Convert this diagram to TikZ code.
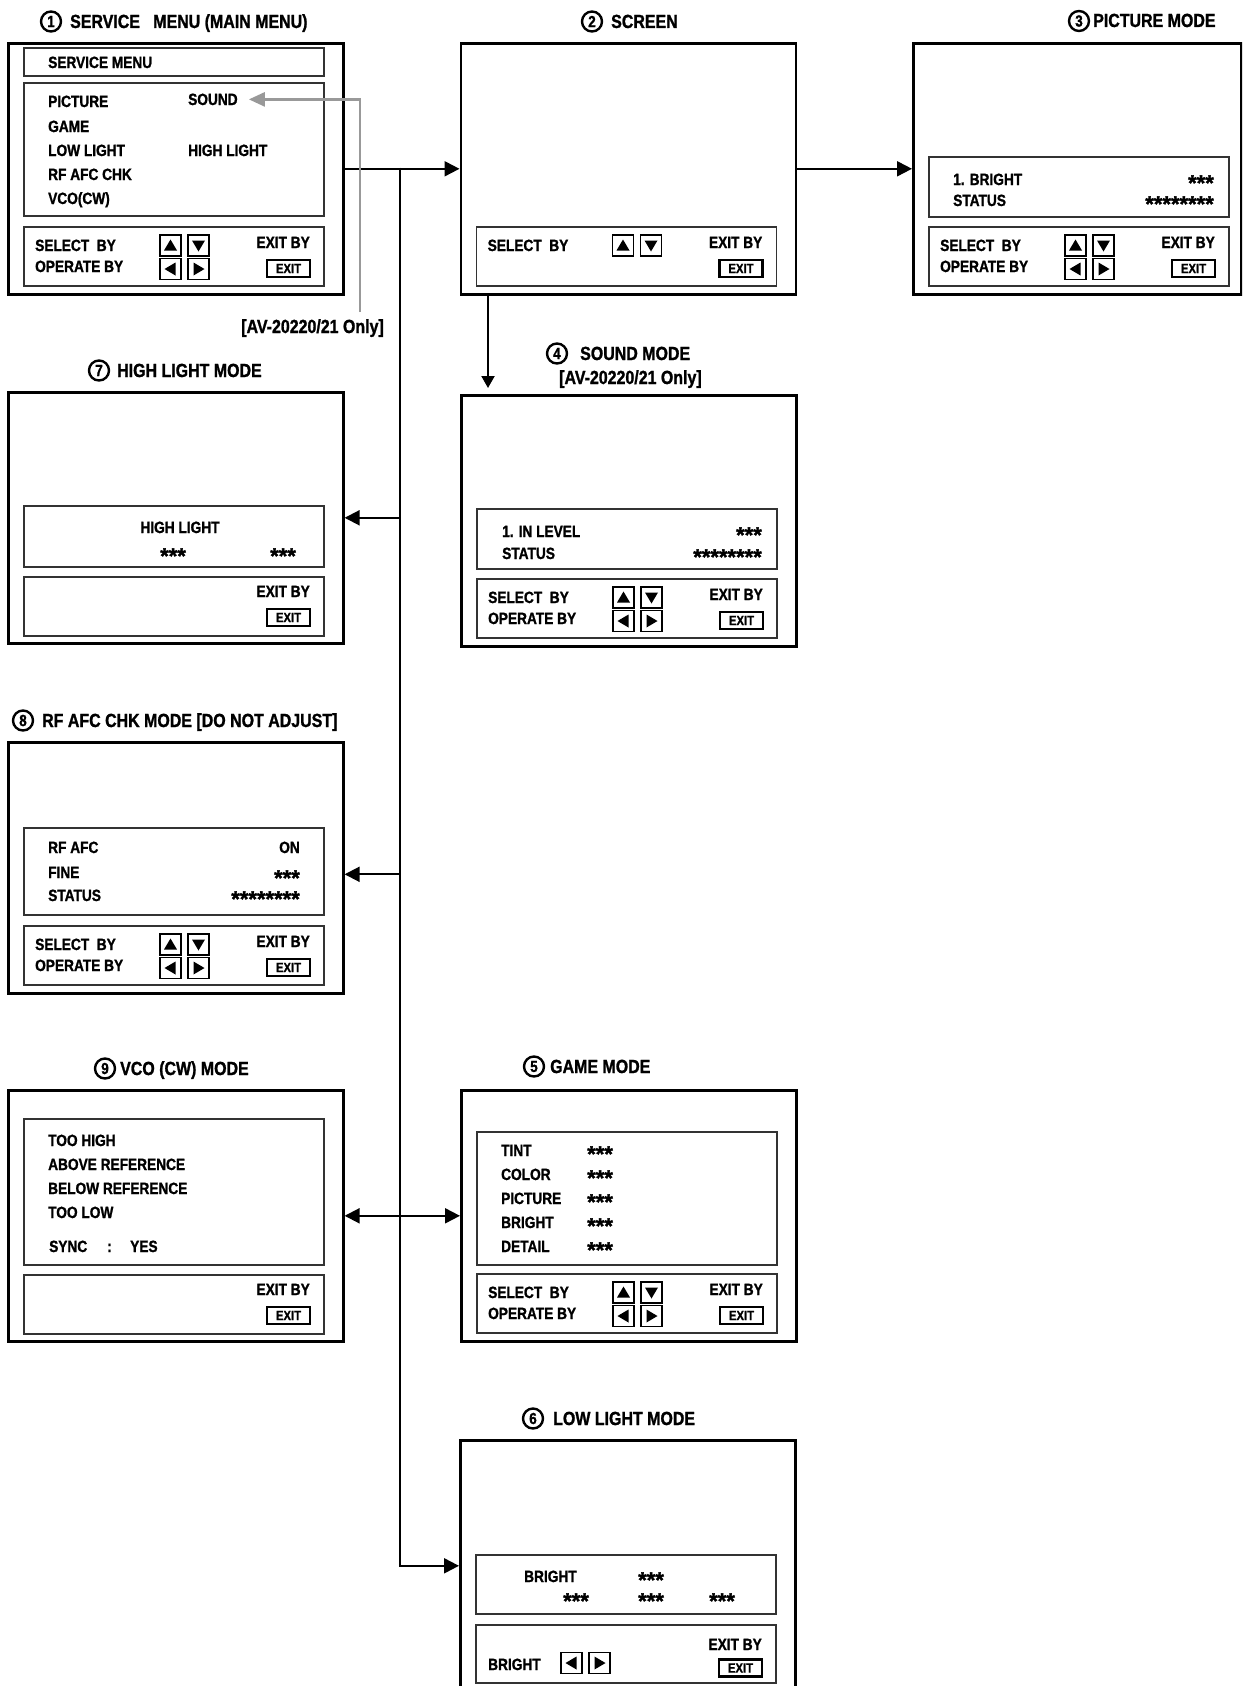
\documentclass[tikz,border=0pt]{standalone}
\usepackage{fontspec}
\setmainfont{Liberation Sans}[FakeStretch=0.84, FakeBold=1.2, UprightFont=* Bold, BoldFont=* Bold, ItalicFont=* Bold Italic, BoldItalicFont=* Bold Italic]
\newfontfamily\starfont{Liberation Sans}[FakeBold=1.5, UprightFont=* Bold, BoldFont=* Bold]
\usetikzlibrary{arrows.meta}
\newcommand\str[1]{\raisebox{-5.5pt}{\starfont\fontsize{22}{22}\selectfont #1}}
\newcommand\uptri[2]{\fill (#1-6.5,#2+5) -- (#1+6.5,#2+5) -- (#1,#2-6) -- cycle;}
\newcommand\dntri[2]{\fill (#1-6.5,#2-5) -- (#1+6.5,#2-5) -- (#1,#2+6) -- cycle;}
\newcommand\lftri[2]{\fill (#1+5,#2-6.5) -- (#1+5,#2+6.5) -- (#1-6,#2) -- cycle;}
\newcommand\rttri[2]{\fill (#1-5,#2-6.5) -- (#1-5,#2+6.5) -- (#1+6,#2) -- cycle;}
\newcommand\panel{\draw[innerbox] (17,185) rectangle (317,244);}
\newcommand\exitpart[1]{%
  \node[txtr] (#1exby) at (303,206) {EXIT BY};
  \node[exitbtn] (#1exit) at (281.5,226.5) {EXIT};}
\newcommand\selpart[1]{%
  \node[txt] (#1sel) at (28,209) {SELECT\ \ BY};
  \node[keybox] (#1ku) at (163.5,203.5) {}; \uptri{163.5}{203.5}
  \node[keybox] (#1kd) at (191.5,203.5) {}; \dntri{191.5}{203.5}}
\newcommand\oppart[1]{%
  \node[txt] (#1op) at (28,230) {OPERATE BY};
  \node[keybox] (#1kl) at (163.5,227) {}; \lftri{163.5}{227}
  \node[keybox] (#1kr) at (191.5,227) {}; \rttri{191.5}{227}}
\tikzset{
  outerbox/.style={draw=black, line width=2.6pt, minimum width=335pt, minimum height=251pt, anchor=north west, inner sep=0pt},
  innerbox/.style={draw=black!80, line width=1.4pt},
  txt/.style={anchor=base west, inner sep=0pt, font=\fontsize{16.3}{18}\selectfont},
  txtr/.style={txt, anchor=base east},
  txtc/.style={txt, anchor=base},
  head/.style={anchor=base west, inner sep=0pt, font=\fontsize{19}{21}\selectfont},
  cnum/.style={circle, draw, line width=2.4pt, inner sep=0pt, minimum size=20pt, font=\fontsize{16}{16}\selectfont},
  keybox/.style={draw, line width=1.3pt, minimum size=21pt, inner sep=0pt},
  exitbtn/.style={draw, line width=2.2pt, minimum width=43pt, minimum height=17pt, inner sep=0pt, font=\fontsize{13.5}{14}\selectfont},
  conn/.style={line width=2pt, -{Triangle[length=15pt,width=15pt]}},
  dconn/.style={line width=2pt, {Triangle[length=15pt,width=15pt]}-{Triangle[length=15pt,width=15pt]}},
  gconn/.style={line width=2.6pt, draw=black!40, -{Triangle[length=16pt,width=14pt]}},
}
\begin{document}
\begin{tikzpicture}[x=1pt,y=-1pt]
\useasboundingbox (0,0) rectangle (1242,1686);
\fill[white] (0,0) rectangle (1242,1686);
\clip (0,0) rectangle (1242,1686);

% headings
\node[cnum] (h1c) at (51,21.5) {1};
\node[head] (h1t) at (70,28) {SERVICE\ \ \ MENU (MAIN MENU)};
\node[cnum] (h2c) at (592,21.5) {2};
\node[head] (h2t) at (611,28) {SCREEN};
\node[cnum] (h3c) at (1079,21) {3};
\node[head] (h3t) at (1093,27) {PICTURE MODE};
\node[cnum] (h4c) at (557,353.5) {4};
\node[head] (h4t) at (580,360) {SOUND MODE};
\node[head] (h4n) at (559,384) {[AV-20220/21 Only]};
\node[cnum] (h5c) at (534,1066.5) {5};
\node[head] (h5t) at (550,1073) {GAME MODE};
\node[cnum] (h6c) at (533,1418.5) {6};
\node[head] (h6t) at (553,1425) {LOW LIGHT MODE};
\node[cnum] (h7c) at (99,370.5) {7};
\node[head] (h7t) at (117,377) {HIGH LIGHT MODE};
\node[cnum] (h8c) at (23,720.5) {8};
\node[head] (h8t) at (42,727) {RF AFC CHK MODE [DO NOT ADJUST]};
\node[cnum] (h9c) at (105,1068.5) {9};
\node[head] (h9t) at (120,1075) {VCO (CW) MODE};
\node[head, anchor=base east] (gnote) at (384,333) {[AV-20220/21 Only]};

% box 1
\begin{scope}[shift={(7,42)}]
\node[outerbox] (b1) at (0,0) {};
\draw[innerbox] (17,6) rectangle (317,34);
\node[txt] (b1title) at (41,26) {SERVICE MENU};
\draw[innerbox] (17,41) rectangle (317,174);
\node[txt] (b1pic) at (41,65) {PICTURE};
\node[txt] (b1sound) at (181,63) {SOUND};
\node[txt] (b1game) at (41,90) {GAME};
\node[txt] (b1low) at (41,114) {LOW LIGHT};
\node[txt] (b1high) at (181,114) {HIGH LIGHT};
\node[txt] (b1rf) at (41,138) {RF AFC CHK};
\node[txt] (b1vco) at (41,162) {VCO(CW)};
\panel \selpart{b1} \oppart{b1} \exitpart{b1}
\end{scope}

% box 2
\begin{scope}[shift={(459.5,42)}]
\node[outerbox] (b2) at (0,0) {};
\panel \selpart{b2} \exitpart{b2}
\end{scope}

% box 3
\begin{scope}[shift={(912,42)}]
\node[outerbox, minimum width=328pt] (b3) at (0,0) {};
\draw[innerbox] (17,115) rectangle (317,175);
\node[txt] (b3a) at (41,143) {1. BRIGHT};
\node[txt] (b3b) at (41,164) {STATUS};
\node[txtr] (b3s1) at (302,143) {\str{***}};
\node[txtr] (b3s2) at (302,164) {\str{********}};
\panel \selpart{b3} \oppart{b3} \exitpart{b3}
\end{scope}

% box 4
\begin{scope}[shift={(460,394)}]
\node[outerbox] (b4) at (0,0) {};
\draw[innerbox] (17,115) rectangle (317,175);
\node[txt] (b4a) at (42,143) {1. IN LEVEL};
\node[txt] (b4b) at (42,165) {STATUS};
\node[txtr] (b4s1) at (302,143) {\str{***}};
\node[txtr] (b4s2) at (302,165) {\str{********}};
\panel \selpart{b4} \oppart{b4} \exitpart{b4}
\end{scope}

% box 7
\begin{scope}[shift={(7,391)}]
\node[outerbox] (b7) at (0,0) {};
\draw[innerbox] (17,115) rectangle (317,176);
\node[txtc] (b7a) at (173,142) {HIGH LIGHT};
\node[txt] (b7s1) at (153,167) {\str{***}};
\node[txt] (b7s2) at (263,167) {\str{***}};
\draw[innerbox] (17,186) rectangle (317,245);
\exitpart{b7}
\end{scope}

% box 8
\begin{scope}[shift={(7,741)}]
\node[outerbox] (b8) at (0,0) {};
\draw[innerbox] (17,87) rectangle (317,174);
\node[txt] (b8a) at (41,112) {RF AFC};
\node[txtr] (b8on) at (293,112) {ON};
\node[txt] (b8b) at (41,137) {FINE};
\node[txtr] (b8s1) at (293,139) {\str{***}};
\node[txt] (b8c) at (41,160) {STATUS};
\node[txtr] (b8s2) at (293,160) {\str{********}};
\panel \selpart{b8} \oppart{b8} \exitpart{b8}
\end{scope}

% box 9
\begin{scope}[shift={(7,1089)}]
\node[outerbox] (b9) at (0,0) {};
\draw[innerbox] (17,30) rectangle (317,176);
\node[txt] (b9a) at (41,57) {TOO HIGH};
\node[txt] (b9b) at (41,81) {ABOVE REFERENCE};
\node[txt] (b9c) at (41,105) {BELOW REFERENCE};
\node[txt] (b9d) at (41,129) {TOO LOW};
\node[txt] (b9e) at (42,163) {SYNC};
\node[txt] (b9f) at (100,163) {:};
\node[txt] (b9g) at (123,163) {YES};
\draw[innerbox] (17,186) rectangle (317,245);
\exitpart{b9}
\end{scope}

% box 5
\begin{scope}[shift={(460,1089)}]
\node[outerbox] (b5) at (0,0) {};
\draw[innerbox] (17,43) rectangle (317,176);
\node[txt] (b5a) at (41,67) {TINT};
\node[txt] (b5b) at (41,91) {COLOR};
\node[txt] (b5c) at (41,115) {PICTURE};
\node[txt] (b5d) at (41,139) {BRIGHT};
\node[txt] (b5e) at (41,163) {DETAIL};
\node[txt] (b5s1) at (127,67) {\str{***}};
\node[txt] (b5s2) at (127,91) {\str{***}};
\node[txt] (b5s3) at (127,115) {\str{***}};
\node[txt] (b5s4) at (127,139) {\str{***}};
\node[txt] (b5s5) at (127,163) {\str{***}};
\panel \selpart{b5} \oppart{b5} \exitpart{b5}
\end{scope}

% box 6
\begin{scope}[shift={(459,1439)}]
\node[outerbox] (b6) at (0,0) {};
\draw[innerbox] (17,116) rectangle (317,175);
\node[txt] (b6a) at (65,143) {BRIGHT};
\node[txt] (b6s1) at (179,143) {\str{***}};
\node[txt] (b6s2) at (104,164) {\str{***}};
\node[txt] (b6s3) at (179,164) {\str{***}};
\node[txt] (b6s4) at (250,164) {\str{***}};
\draw[innerbox] (17,186) rectangle (317,244);
\node[txtr] (b6exby) at (303,211) {EXIT BY};
\node[exitbtn] (b6exit) at (281.5,229) {EXIT};
\node[txt] (b6br) at (29,231) {BRIGHT};
\node[keybox] (b6kl) at (112.5,224) {}; \lftri{112.5}{224}
\node[keybox] (b6kr) at (140.5,224) {}; \rttri{140.5}{224}
\end{scope}

% connectors
\coordinate (jtop) at (400,167.5);
\coordinate (gfoot) at (360,312);
\draw[conn] (b1.east) -- (b2.west);
\draw[conn] (b2.east) -- (b3.west);
\draw[conn] (jtop) |- (b6.west);
\draw[conn] (jtop |- b7.east) -- (b7.east);
\coordinate (b8tip) at ([yshift=-6.5pt]b8.east);
\draw[conn] (jtop |- b8tip) -- (b8tip);
\draw[dconn] (b9.east) -- (b5.west);
\draw[line width=2pt, -{Triangle[length=12pt,width=13pt]}] ([xshift=28.5pt]b2.south west) -- ([xshift=28pt,yshift=6pt]b4.north west);
\draw[gconn] (gfoot) |- ([xshift=11pt]b1sound.east);
\end{tikzpicture}
\end{document}
